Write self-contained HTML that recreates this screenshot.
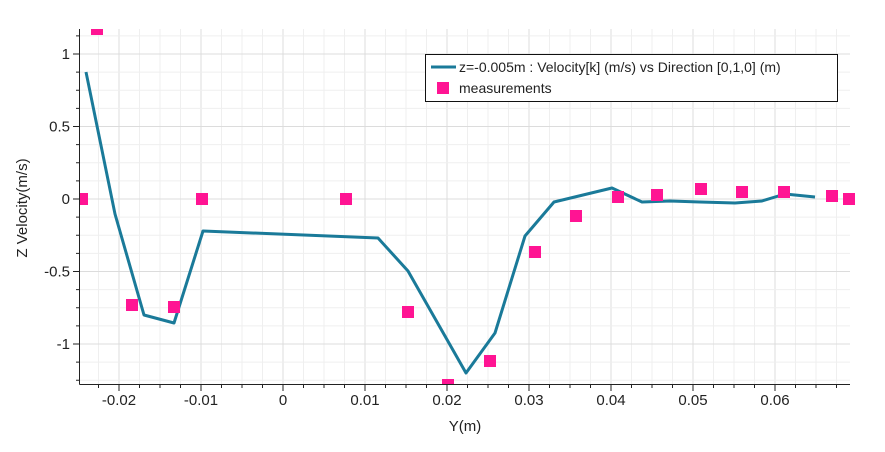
<!DOCTYPE html>
<html><head><style>
body{margin:0;background:#fff;}
text{font-family:"Liberation Sans",sans-serif;fill:#222;}
</style></head><body>
<svg width="885" height="447" xmlns="http://www.w3.org/2000/svg">
<defs><clipPath id="c"><rect x="79.5" y="29" width="776" height="355"/></clipPath></defs>
<g id="grid"></g>
<g clip-path="url(#c)">
<polyline fill="none" stroke="#1a7a99" stroke-width="3" stroke-linejoin="round" points="86,72 115,214 144,315 174,323 203,231 378,238 408,271 437,322 466,373 495,333 525,236 554,202 612,188 642,202 670,201 700,202 735,203 762,201 785,194 815,197"/>
<g fill="#ff1493" id="m"></g>
</g>
<line x1="79.5" y1="29" x2="79.5" y2="384.5" stroke="#222"/>
<line x1="79.5" y1="384.5" x2="850" y2="384.5" stroke="#222"/>
<g id="ticks"></g>
<rect x="425.5" y="54.5" width="412" height="47" fill="#fff" stroke="#111"/>
<line x1="431" y1="67" x2="456" y2="67" stroke="#1a7a99" stroke-width="3"/>
<rect x="437" y="82" width="12" height="12" fill="#ff1493"/>
<text x="459" y="72" font-size="14">z=-0.005m : Velocity[k] (m/s) vs Direction [0,1,0] (m)</text>
<text x="459" y="93" font-size="14">measurements</text>
<text x="465" y="431" font-size="15" text-anchor="middle">Y(m)</text>
<text transform="translate(27,208) rotate(-90)" font-size="15" text-anchor="middle">Z Velocity(m/s)</text>
</svg>
<script>
var ns="http://www.w3.org/2000/svg";
function el(p,t,a,txt){var e=document.createElementNS(ns,t);for(var k in a)e.setAttribute(k,a[k]);if(txt)e.textContent=txt;document.getElementById(p).appendChild(e);}
for(var i=-11;i<=30;i++){var x=283+20.5*i;if(x<80||x>851)continue;var maj=(i%4==0);
el("grid","line",{x1:x,y1:29,x2:x,y2:384,stroke:maj?"#dcdcdc":"#efefef","stroke-width":1});
el("ticks","line",{x1:x,y1:384,x2:x,y2:maj?391:388,stroke:"#222"});
if(maj){var v=(i/400);var s=(Math.round(v*100)/100).toString();el("ticks","text",{x:x,y:405,"font-size":15,"text-anchor":"middle"},s);}}
for(var j=-10;j<=9;j++){var y=199-18.125*j;if(y<29||y>384)continue;var maj=(j%4==0);
el("grid","line",{x1:80,y1:y,x2:850,y2:y,stroke:maj?"#dcdcdc":"#efefef","stroke-width":1});
el("ticks","line",{x1:maj?73:76,y1:y,x2:79.5,y2:y,stroke:"#222"});
if(maj){var v=j/8;el("ticks","text",{x:70,y:y+5,"font-size":15,"text-anchor":"end"},v.toString());}}
var pts=[[97,29],[82,199],[132,305],[174,307],[202,199],[346,199],[408,312],[448,385],[490,361],[535,252],[576,216],[618,197],[657,195],[701,189],[742,192],[784,192],[832,196],[849,199]];
pts.forEach(function(p){el("m","rect",{x:p[0]-6,y:p[1]-6,width:12,height:12});});
</script>
</body></html>
